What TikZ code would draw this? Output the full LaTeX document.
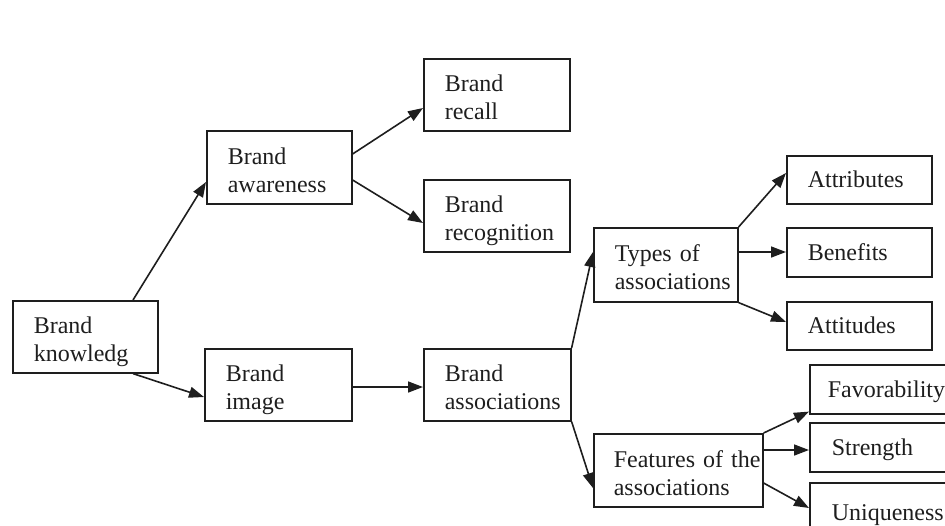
\documentclass[tikz,border=0pt]{standalone}
\usepackage{fontspec}
\setmainfont{Liberation Serif}
\usetikzlibrary{arrows.meta,calc}

\definecolor{ink}{HTML}{1E1E1E}

\tikzset{
  box/.style={draw=ink, line width=1.6pt, rectangle, anchor=north west,
    inner xsep=21pt, inner ysep=0pt, align=left, text=ink,
    font=\fontsize{24}{28}\selectfont},
  twoline/.style={box, text height=33pt, text depth=39pt},
  oneline/.style={box, text height=32pt, text depth=16pt},
  link/.style={draw=ink, line width=1.6pt, -{Triangle[length=15pt,width=11pt]}},
}

\begin{document}
\begin{tikzpicture}[x=1pt, y=-1pt]
  \useasboundingbox (0,0) rectangle (945,525);
  \clip (0,0) rectangle (945,525);

  % main column boxes
  \node[twoline, minimum width=145pt, minimum height=72pt, text width=103pt] (kn) at (12,300) {Brand\\knowledg};
  \node[twoline, minimum width=145pt, minimum height=73pt, text width=103pt] (aw) at (206,130) {Brand\\awareness};
  \node[twoline, minimum width=147pt, minimum height=72pt, text width=105pt] (im) at (204,348) {Brand\\image};
  \node[twoline, minimum width=146pt, minimum height=72pt, text width=104pt] (rc) at (423,58) {Brand\\recall};
  \node[twoline, minimum width=146pt, minimum height=72pt, text width=104pt] (rg) at (423,179) {Brand\\\mbox{recognition}};
  \node[twoline, minimum width=147pt, minimum height=72pt, text width=105pt] (as) at (423,348) {Brand\\\mbox{associations}};
  \node[twoline, minimum width=144pt, minimum height=74pt, text width=102pt] (ty) at (593,227) {Types of\\\mbox{associations}};
  \node[twoline, minimum width=169pt, minimum height=73pt, text width=129pt, inner xsep=20pt] (fe) at (593,433) {\mbox{Features of the}\\associations};

  % leaves (the last column runs past the right edge)
  \node[oneline, minimum width=145pt, minimum height=48pt, text width=103pt] (at) at (786,155) {Attributes};
  \node[oneline, minimum width=145pt, minimum height=49pt, text width=103pt] (be) at (786,227) {Benefits};
  \node[oneline, minimum width=145pt, minimum height=47pt, text width=103pt] (au) at (786,301) {Attitudes};
  \node[oneline, minimum width=154pt, minimum height=49pt, text width=118pt, inner xsep=18pt] (fa) at (809,364) {\mbox{Favorability}};
  \node[oneline, minimum width=162pt, minimum height=49pt, text width=118pt, inner xsep=22pt] (st) at (809,422) {Strength};
  \node[oneline, minimum width=162pt, minimum height=60pt, text width=118pt, inner xsep=22pt] (un) at (809,482) {\mbox{Uniqueness}};

  % connectors
  \draw[link] ($(kn.north west)+(121,0)$) -- ($(aw.north west)+(0,52)$);
  \draw[link] ($(kn.south west)+(121,0)$) -- ($(im.north west)+(0,49)$);
  \draw[link] ($(aw.north east)+(0,24)$) -- ($(rc.north west)+(0,50)$);
  \draw[link] ($(aw.north east)+(0,50)$) -- ($(rg.north west)+(0,44)$);
  \draw[link] ($(im.north east)+(0,39)$) -- ($(as.north west)+(0,39)$);
  \draw[link] (as.north east) -- ($(ty.north west)+(0,25)$);
  \draw[link] (as.south east) -- ($(fe.north west)+(0,55)$);
  \draw[link] (ty.north east) -- ($(at.north west)+(0,18)$);
  \draw[link] ($(ty.north east)+(0,25)$) -- ($(be.north west)+(0,25)$);
  \draw[link] (ty.south east) -- ($(au.north west)+(0,21)$);
  \draw[link] (fe.north east) -- ($(fa.south west)+(0,-3)$);
  \draw[link] ($(fe.north east)+(0,17)$) -- ($(st.north west)+(0,28)$);
  \draw[link] ($(fe.north east)+(0,50)$) -- ($(un.north west)+(0,26)$);
\end{tikzpicture}
\end{document}
